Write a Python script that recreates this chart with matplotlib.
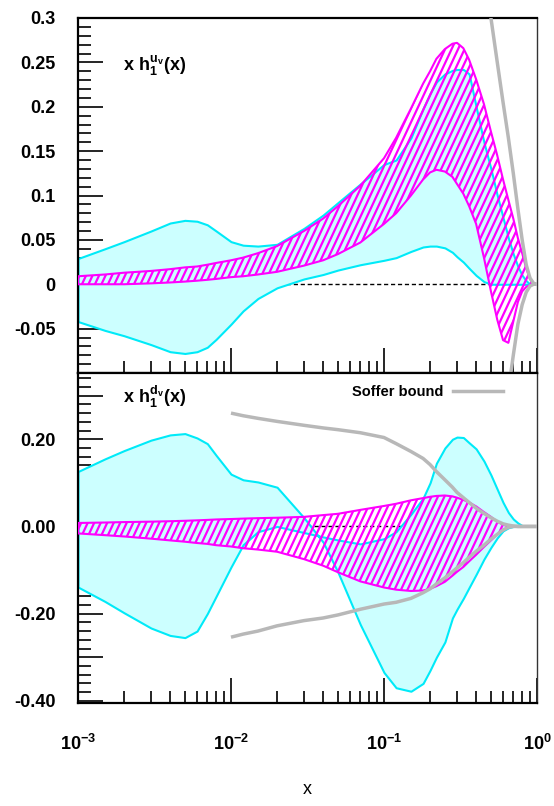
import numpy as np
import matplotlib
matplotlib.use("Agg")
import matplotlib.pyplot as plt
from matplotlib.ticker import FixedLocator, FixedFormatter, MultipleLocator, LogLocator, NullFormatter
from matplotlib.collections import LineCollection
from matplotlib.transforms import IdentityTransform
from matplotlib.lines import Line2D

plt.rcParams['font.family'] = ['Liberation Sans', 'DejaVu Sans']
plt.rcParams['font.weight'] = 'bold'
plt.rcParams['mathtext.fontset'] = 'custom'
plt.rcParams['mathtext.rm'] = 'Liberation Sans:bold'
plt.rcParams['mathtext.it'] = 'Liberation Sans:bold'
plt.rcParams['mathtext.bf'] = 'Liberation Sans:bold'
plt.rcParams['mathtext.sf'] = 'Liberation Sans:bold'
plt.rcParams['axes.unicode_minus'] = False

# ---------------- data ----------------
x_grid = [0.001, 0.0015, 0.002, 0.003, 0.004, 0.005, 0.006, 0.007, 0.008, 0.01,
          0.012, 0.015, 0.02, 0.03, 0.04, 0.05, 0.07, 0.1, 0.12, 0.15,
          0.18, 0.2, 0.22, 0.25, 0.28, 0.3, 0.33, 0.36, 0.4, 0.45,
          0.5, 0.55, 0.6, 0.65, 0.7, 0.75, 0.8, 0.85, 0.9, 0.95, 1.0]

# u_v panel
u_cyan_hi = [0.029, 0.040, 0.048, 0.060, 0.069, 0.072, 0.071, 0.067, 0.060, 0.048,
             0.044, 0.043, 0.045, 0.063, 0.078, 0.092, 0.113, 0.135, 0.140, 0.165,
             0.198, 0.215, 0.228, 0.237, 0.241, 0.242, 0.242, 0.237, 0.200, 0.160,
             0.130, 0.100, 0.075, 0.052, 0.034, 0.020, 0.010, 0.004, 0.0]
u_cyan_lo = [-0.042, -0.052, -0.058, -0.068, -0.076, -0.078, -0.076, -0.071, -0.062, -0.045,
             -0.030, -0.016, -0.004, 0.006, 0.011, 0.016, 0.022, 0.027, 0.030, 0.037,
             0.042, 0.043, 0.043, 0.041, 0.036, 0.031, 0.025, 0.018, 0.010, 0.003,
             0.0, 0.0, 0.0, 0.0, 0.0, 0.0, 0.0, 0.0, 0.0]
u_mag_hi = [0.009, 0.011, 0.013, 0.015, 0.017, 0.019, 0.020, 0.022, 0.024, 0.027,
            0.030, 0.035, 0.043, 0.060, 0.074, 0.088, 0.111, 0.142, 0.165, 0.198,
            0.226, 0.240, 0.254, 0.265, 0.271, 0.272, 0.266, 0.253, 0.231, 0.203,
            0.172, 0.145, 0.118, 0.095, 0.074, 0.052, 0.035, 0.018, 0.006, 0.0]
u_mag_lo = [0.0, 0.0, 0.0, 0.001, 0.002, 0.003, 0.004, 0.005, 0.006, 0.008,
            0.009, 0.011, 0.014, 0.021, 0.027, 0.034, 0.047, 0.068, 0.080, 0.100,
            0.118, 0.126, 0.129, 0.127, 0.121, 0.113, 0.102, 0.088, 0.068, 0.030,
            -0.008, -0.040, -0.063, -0.066, -0.042, -0.020, -0.008, -0.003, -0.001, 0.0]
soffer_u_hi_x = [0.45, 0.5, 0.55, 0.6, 0.65, 0.7, 0.75, 0.8, 0.85, 0.9, 0.95, 1.0]
soffer_u_hi = [0.36, 0.30, 0.25, 0.205, 0.165, 0.125, 0.085, 0.05, 0.022, 0.007, 0.001, 0.0]
soffer_u_lo_x = [0.6, 0.65, 0.7, 0.75, 0.8, 0.85, 0.9, 0.95, 1.0]
soffer_u_lo = [-0.17, -0.12, -0.08, -0.045, -0.023, -0.009, -0.002, 0.0, 0.0]

# d_v panel
d_cyan_a = [0.126, 0.155, 0.174, 0.198, 0.210, 0.213, 0.203, 0.190, 0.163, 0.120,
            0.107, 0.102, 0.090, 0.020, -0.036, -0.105, -0.225, -0.335, -0.370, -0.378,
            -0.360, -0.330, -0.300, -0.265, -0.210, -0.190, -0.165, -0.140, -0.110, -0.075,
            -0.048, -0.026, -0.010, -0.003, 0.0, 0.0, 0.0, 0.0]
d_cyan_b = [-0.139, -0.172, -0.198, -0.233, -0.250, -0.255, -0.240, -0.200, -0.160, -0.093,
            -0.042, -0.012, 0.0, -0.014, -0.024, -0.031, -0.040, -0.028, -0.012, 0.028,
            0.065, 0.100, 0.145, 0.180, 0.200, 0.205, 0.204, 0.192, 0.178, 0.150,
            0.118, 0.085, 0.055, 0.032, 0.017, 0.008, 0.002, 0.0]
d_mag_hi = [0.008, 0.009, 0.010, 0.011, 0.012, 0.013, 0.014, 0.015, 0.016, 0.017,
            0.018, 0.019, 0.020, 0.022, 0.026, 0.029, 0.038, 0.047, 0.052, 0.060,
            0.065, 0.068, 0.070, 0.071, 0.069, 0.066, 0.061, 0.055, 0.046, 0.033,
            0.022, 0.011, 0.004, 0.0]
d_mag_lo = [-0.016, -0.020, -0.023, -0.028, -0.032, -0.035, -0.038, -0.040, -0.043, -0.046,
            -0.050, -0.053, -0.058, -0.075, -0.090, -0.105, -0.126, -0.140, -0.145, -0.148,
            -0.147, -0.143, -0.137, -0.127, -0.113, -0.104, -0.093, -0.080, -0.065, -0.047,
            -0.032, -0.018, -0.008, -0.002]
soffer_d_x = [0.01, 0.012, 0.015, 0.02, 0.03, 0.04, 0.05, 0.07, 0.1, 0.12,
              0.15, 0.18, 0.2, 0.22, 0.25, 0.28, 0.3, 0.33, 0.36, 0.4,
              0.45, 0.5, 0.55, 0.6, 0.65, 0.7, 0.75, 1.0]
soffer_d_hi = [0.260, 0.254, 0.248, 0.241, 0.232, 0.226, 0.222, 0.215, 0.204, 0.190,
               0.172, 0.156, 0.142, 0.126, 0.107, 0.090, 0.078, 0.066, 0.055, 0.042,
               0.030, 0.020, 0.012, 0.006, 0.003, 0.001, 0.0, 0.0]
soffer_d_lo = [-0.254, -0.247, -0.240, -0.228, -0.216, -0.210, -0.203, -0.190, -0.178, -0.174,
               -0.165, -0.152, -0.143, -0.132, -0.118, -0.104, -0.095, -0.083, -0.071, -0.057,
               -0.043, -0.029, -0.018, -0.008, -0.002, 0.0, 0.0, 0.0]

u_yticks = [-0.05, 0.0, 0.05, 0.1, 0.15, 0.2, 0.25, 0.3]
u_yticklabels = ['-0.05', '0', '0.05', '0.1', '0.15', '0.2', '0.25', '0.3']
d_yticks = [-0.4, -0.3, -0.2, -0.1, 0.0, 0.1, 0.2, 0.3]
d_yticklabels = ['-0.40', '', '-0.20', '', '0.00', '', '0.20', '']
x_ticks = [1e-3, 1e-2, 1e-1, 1.0]
x_ticklabels = [r'$10^{-3}$', r'$10^{-2}$', r'$10^{-1}$', r'$10^{0}$']

u_label = r'$\mathrm{x\ h_1^{u_v}(x)}$'
d_label = r'$\mathrm{x\ h_1^{d_v}(x)}$'
legend_label = 'Soffer bound'

# ---------------- style ----------------
CYAN_EDGE = '#00eaf8'
CYAN_FILL = '#ccffff'
MAG = '#ff00ff'
GRAY = '#b8b8b8'

fig = plt.figure(figsize=(5.54, 8.06), dpi=100)
ax1 = fig.add_axes([78/554, 1-373/806, 459/554, 355/806])
ax2 = fig.add_axes([78/554, 1-703/806, 459/554, 330/806])


def hatch_band(ax, x, lo, hi, z):
    poly = ax.fill_between(x, lo, hi, facecolor='none', edgecolor=MAG,
                           linewidth=1.5, zorder=z + 0.1)
    W, H = fig.bbox.width, fig.bbox.height
    run = H / np.tan(np.radians(65))
    step = 6.5
    starts = np.arange(-run, W + step, step)
    segs = [[(s, 0.0), (s + run, H)] for s in starts]
    lc = LineCollection(segs, colors=MAG, linewidths=1.6,
                        transform=IdentityTransform(), zorder=z)
    ax.add_collection(lc, autolim=False)
    lc.set_clip_path(poly.get_paths()[0], poly.get_transform())


def style_axis(ax):
    ax.set_xscale('log')
    ax.set_xlim(1e-3, 1.0)
    ax.tick_params(axis='both', which='both', direction='in', top=False, right=False)
    ax.tick_params(axis='y', which='major', length=18, width=1.2, pad=16, labelsize=13)
    ax.tick_params(axis='y', which='minor', length=9.5, width=1.2)
    ax.tick_params(axis='x', which='major', length=18, width=1.2, pad=22, labelsize=13)
    ax.tick_params(axis='x', which='minor', length=9, width=1.2)
    ax.xaxis.set_major_locator(FixedLocator(x_ticks))
    ax.xaxis.set_minor_locator(LogLocator(base=10, subs=np.arange(2, 10), numticks=20))
    ax.xaxis.set_minor_formatter(NullFormatter())
    for s in ['left', 'bottom', 'top']:
        ax.spines[s].set_linewidth(1.6)
    ax.spines['right'].set_linewidth(1.0)
    ax.spines['right'].set_color('#333333')


# ---- top panel ----
xg = np.array(x_grid)
ax1.axhline(0.0, color='black', lw=1.0, ls=(0, (3, 2)), zorder=1)
ax1.fill_between(xg[:len(u_cyan_hi)], u_cyan_lo, u_cyan_hi, facecolor=CYAN_FILL,
                 edgecolor=CYAN_EDGE, linewidth=1.5, zorder=2)
hatch_band(ax1, xg[:len(u_mag_hi)], u_mag_lo, u_mag_hi, 3)
ax1.plot(soffer_u_hi_x, soffer_u_hi, color=GRAY, lw=2.5, zorder=5, solid_capstyle='butt')
ax1.plot(soffer_u_lo_x, soffer_u_lo, color=GRAY, lw=2.5, zorder=5, solid_capstyle='butt')
style_axis(ax1)
ax1.set_ylim(-0.1, 0.3)
ax1.yaxis.set_major_locator(FixedLocator(u_yticks))
ax1.yaxis.set_major_formatter(FixedFormatter(u_yticklabels))
ax1.yaxis.set_minor_locator(MultipleLocator(0.01))
ax1.tick_params(axis='x', labelbottom=False)
ax1.text(0.098, 0.851, u_label, transform=ax1.transAxes, fontsize=13, va='baseline', ha='left')

# ---- bottom panel ----
ax2.axhline(0.0, color='black', lw=1.0, ls=(0, (3, 2)), zorder=1)
ax2.fill_between(xg[:len(d_cyan_a)], d_cyan_b, d_cyan_a, facecolor=CYAN_FILL,
                 edgecolor=CYAN_EDGE, linewidth=1.5, zorder=2)
hatch_band(ax2, xg[:len(d_mag_hi)], d_mag_lo, d_mag_hi, 3)
ax2.plot(soffer_d_x, soffer_d_hi, color=GRAY, lw=2.5, zorder=5, solid_capstyle='butt')
ax2.plot(soffer_d_x, soffer_d_lo, color=GRAY, lw=2.5, zorder=5, solid_capstyle='butt')
style_axis(ax2)
ax2.set_ylim(-0.405, 0.352)
ax2.yaxis.set_major_locator(FixedLocator(d_yticks))
ax2.yaxis.set_major_formatter(FixedFormatter(d_yticklabels))
ax2.yaxis.set_minor_locator(MultipleLocator(0.02))
ax2.xaxis.set_major_formatter(FixedFormatter(x_ticklabels))
ax2.text(0.098, 0.909, d_label, transform=ax2.transAxes, fontsize=13, va='baseline', ha='left')

handle = Line2D([], [], color=GRAY, lw=2.5)
leg = ax2.legend([handle], [legend_label], loc='center right', bbox_to_anchor=(0.926, 0.942),
                 frameon=False, markerfirst=False, fontsize=10.5, handlelength=3.4,
                 handletextpad=0.7, borderpad=0, borderaxespad=0)

ax2.set_xlabel('x', fontsize=13)
ax2.xaxis.set_label_coords(0.5, -0.235)

fig.savefig('out.png', dpi=100)
